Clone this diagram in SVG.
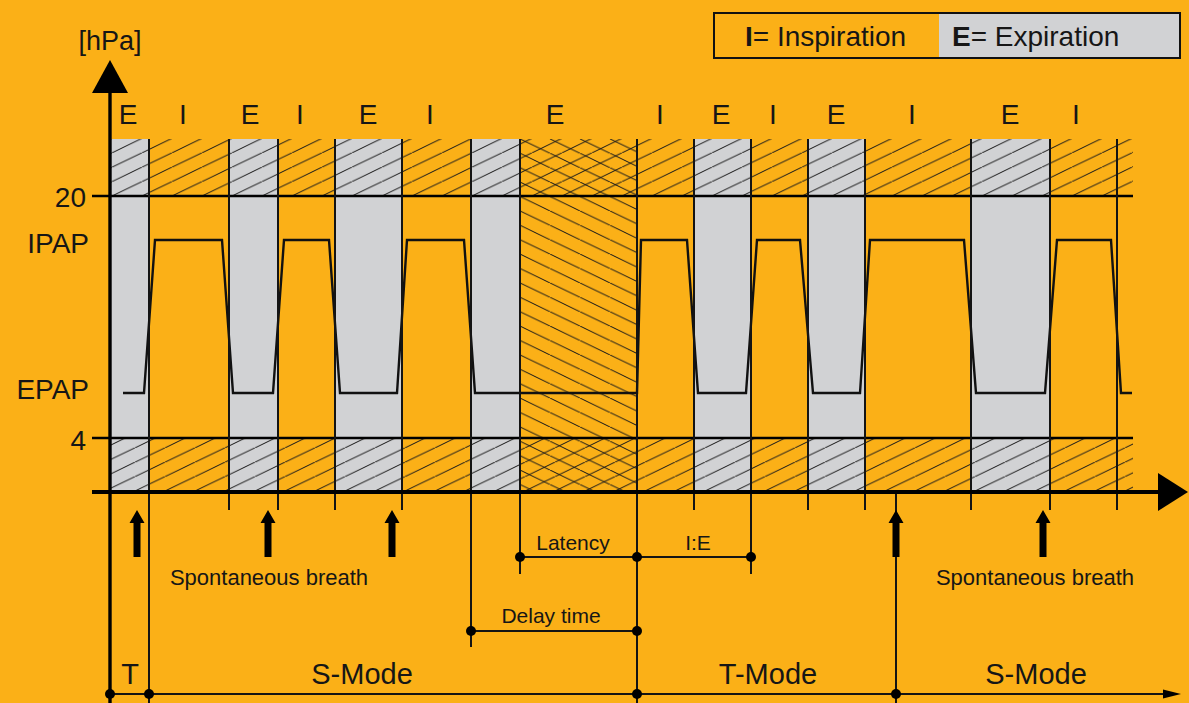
<svg xmlns="http://www.w3.org/2000/svg" width="1189" height="703" viewBox="0 0 1189 703">
<style>
.t{font-family:"Liberation Sans",Arial,sans-serif;fill:#161616}
.ln{stroke:#141414;stroke-width:2;fill:none}
.ax{stroke:#000;fill:none}
.dot{fill:#000}
.grey{fill:#D1D2D4}
</style>
<defs>
<pattern id="fwTop" patternUnits="userSpaceOnUse" x="142" y="196" width="30" height="14.4">
<path d="M0,14.4 L30,0 M-30,14.4 L0,0 M30,14.4 L60,0" stroke="#1a1a1a" stroke-width="1" fill="none"/>
</pattern>
<pattern id="fwBot" patternUnits="userSpaceOnUse" x="165" y="491" width="30" height="14.4">
<path d="M0,14.4 L30,0 M-30,14.4 L0,0 M30,14.4 L60,0" stroke="#1a1a1a" stroke-width="1" fill="none"/>
</pattern>
<pattern id="bk" patternUnits="userSpaceOnUse" x="520" y="196.5" width="30" height="14.4">
<path d="M0,0 L30,14.4 M-30,0 L0,14.4 M30,0 L60,14.4" stroke="#1a1a1a" stroke-width="1" fill="none"/>
</pattern>
</defs>
<rect width="1189" height="703" fill="#FBB017"/>

<g id="phases">
<rect class="grey" x="110" y="139" width="39" height="353"/>
<rect class="grey" x="229" y="139" width="49" height="353"/>
<rect class="grey" x="335" y="139" width="67" height="353"/>
<rect class="grey" x="471" y="139" width="49" height="353"/>
<rect class="grey" x="694" y="139" width="57" height="353"/>
<rect class="grey" x="808" y="139" width="57" height="353"/>
<rect class="grey" x="971" y="139" width="79" height="353"/>
</g>

<g id="hatching">
<rect x="110" y="139" width="1023" height="57" fill="url(#fwTop)"/>
<rect x="110" y="438" width="1023" height="54" fill="url(#fwBot)"/>
<rect x="520" y="139" width="117" height="353" fill="url(#bk)"/>
</g>

<g id="waveform">
<polyline fill="none" stroke="#111" stroke-width="2.4" stroke-linejoin="miter" points="123,393 144,393 155,240 222,240 233,393 273,393 284,240 329,240 340,393 397,393 407,240 464,240 475,393 637,393 641,240 687,240 698,393 746,393 757,240 800,240 813,393 860,393 870,240 964,240 976,393 1045,393 1057,240 1111,240 1121,393 1132,393"/>
</g>

<g id="grid">
<line class="ax" x1="92" y1="196" x2="1133" y2="196" stroke-width="2.6"/>
<line class="ax" x1="92" y1="438" x2="1133" y2="438" stroke-width="2.6"/>
<line class="ln" x1="149" y1="139" x2="149" y2="703"/>
<line class="ln" x1="229" y1="139" x2="229" y2="510"/>
<line class="ln" x1="278" y1="139" x2="278" y2="510"/>
<line class="ln" x1="335" y1="139" x2="335" y2="510"/>
<line class="ln" x1="402" y1="139" x2="402" y2="510"/>
<line class="ln" x1="471" y1="139" x2="471" y2="647"/>
<line class="ln" x1="520" y1="139" x2="520" y2="574"/>
<line class="ln" x1="637" y1="139" x2="637" y2="703"/>
<line class="ln" x1="694" y1="139" x2="694" y2="510"/>
<line class="ln" x1="751" y1="139" x2="751" y2="574"/>
<line class="ln" x1="808" y1="139" x2="808" y2="510"/>
<line class="ln" x1="865" y1="139" x2="865" y2="510"/>
<line class="ln" x1="971" y1="139" x2="971" y2="510"/>
<line class="ln" x1="1050" y1="139" x2="1050" y2="510"/>
<line class="ln" x1="1117" y1="139" x2="1117" y2="510"/>
<line class="ln" x1="896" y1="492" x2="896" y2="703"/>
</g>

<g id="axes">
<line class="ax" x1="110" y1="90" x2="110" y2="703" stroke-width="3.4"/>
<polygon points="110,60 128,93 92,93" fill="#000"/>
<line class="ax" x1="92" y1="492" x2="1160" y2="492" stroke-width="3.8"/>
<polygon points="1188,492 1158,473 1158,511" fill="#000"/>
<text class="t" x="110" y="50" font-size="27" text-anchor="middle">[hPa]</text>
<text class="t" x="86" y="207" font-size="28" text-anchor="end">20</text>
<text class="t" x="89" y="253" font-size="28" text-anchor="end">IPAP</text>
<text class="t" x="89" y="399" font-size="28" text-anchor="end">EPAP</text>
<text class="t" x="86" y="450" font-size="28" text-anchor="end">4</text>
</g>

<g id="phase-labels" class="t" font-size="28" text-anchor="middle">
<text x="128" y="124">E</text>
<text x="183" y="124">I</text>
<text x="250" y="124">E</text>
<text x="300" y="124">I</text>
<text x="368" y="124">E</text>
<text x="430" y="124">I</text>
<text x="555" y="124">E</text>
<text x="660" y="124">I</text>
<text x="721" y="124">E</text>
<text x="773" y="124">I</text>
<text x="836" y="124">E</text>
<text x="912" y="124">I</text>
<text x="1010" y="124">E</text>
<text x="1076" y="124">I</text>
</g>

<g id="legend">
<rect x="714" y="13" width="466" height="45" fill="#FBB017"/>
<rect x="939" y="13" width="241" height="45" fill="#D1D2D4"/>
<rect x="714" y="13" width="466" height="45" fill="none" stroke="#111" stroke-width="2"/>
<text class="t" x="745" y="46" font-size="28"><tspan font-weight="bold">I</tspan>= Inspiration</text>
<text class="t" x="952" y="46" font-size="28"><tspan font-weight="bold">E</tspan>= Expiration</text>
</g>

<g id="breath-arrows" fill="#000">
<polygon points="137,510 144.5,523 140.5,523 140.5,557 133.5,557 133.5,523 129.5,523"/>
<polygon points="268,510 275.5,523 271.5,523 271.5,557 264.5,557 264.5,523 260.5,523"/>
<polygon points="392,510 399.5,523 395.5,523 395.5,557 388.5,557 388.5,523 384.5,523"/>
<polygon points="896,510 903.5,523 899.5,523 899.5,557 892.5,557 892.5,523 888.5,523"/>
<polygon points="1043,510 1050.5,523 1046.5,523 1046.5,557 1039.5,557 1039.5,523 1035.5,523"/>
<text class="t" x="269" y="585" font-size="22" text-anchor="middle">Spontaneous breath</text>
<text class="t" x="1035" y="585" font-size="22" text-anchor="middle">Spontaneous breath</text>
</g>

<g id="timing">
<line class="ln" x1="520" y1="557" x2="751" y2="557"/>
<line class="ln" x1="471" y1="631" x2="637" y2="631"/>
<circle class="dot" cx="520" cy="557" r="5"/>
<circle class="dot" cx="637" cy="557" r="5"/>
<circle class="dot" cx="751" cy="557" r="5"/>
<circle class="dot" cx="471" cy="631" r="5"/>
<circle class="dot" cx="637" cy="631" r="5"/>
<text class="t" x="573" y="550" font-size="21" text-anchor="middle">Latency</text>
<text class="t" x="698" y="550" font-size="21" text-anchor="middle">I:E</text>
<text class="t" x="551" y="623" font-size="21" text-anchor="middle">Delay time</text>
</g>

<g id="modes">
<line class="ln" x1="110" y1="694" x2="1166" y2="694"/>
<polygon points="1181,694 1163,689.5 1163,698.5" fill="#000"/>
<circle class="dot" cx="110" cy="694" r="5"/>
<circle class="dot" cx="149" cy="694" r="5"/>
<circle class="dot" cx="637" cy="694" r="5"/>
<circle class="dot" cx="896" cy="694" r="5"/>
<text class="t" x="130" y="684" font-size="29" text-anchor="middle">T</text>
<text class="t" x="362" y="684" font-size="29" text-anchor="middle">S-Mode</text>
<text class="t" x="768" y="684" font-size="29" text-anchor="middle">T-Mode</text>
<text class="t" x="1036" y="684" font-size="29" text-anchor="middle">S-Mode</text>
</g>
</svg>
